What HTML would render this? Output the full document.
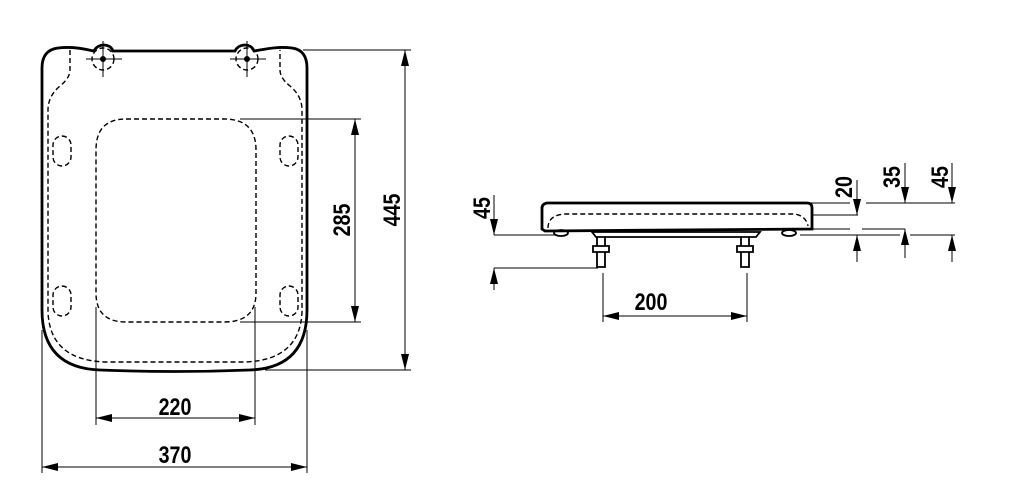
<!DOCTYPE html>
<html><head><meta charset="utf-8"><style>
html,body{margin:0;padding:0;background:#fff;}
svg{display:block;}
text{font-family:"Liberation Sans",sans-serif;font-weight:bold;font-size:24px;fill:#000;}
</style></head><body>
<svg width="1011" height="490" viewBox="0 0 1011 490" xmlns="http://www.w3.org/2000/svg">
<defs>
<marker id="a" viewBox="0 0 16 8" refX="16" refY="4" markerWidth="16" markerHeight="8" markerUnits="userSpaceOnUse" orient="auto-start-reverse"><path d="M0,0 L16,4 L0,8 z" fill="#000"/></marker>
</defs>
<g fill="none" stroke="#000">
<path d="M58,48 C75,46 88,50 94,51 C98,43 110,43 113,51 L235,51 C239,43 251,43 254,51 C262,50 275,46 292,48 Q307,50 307,68 L307,310 Q307,368 250,370 Q175,373 100,370 Q42,368 42,310 L42,68 Q42,50 58,48 z" stroke-width="2.8"/>
<g stroke-width="1.4" stroke-dasharray="5,3">
<path d="M70,50 L70,70 Q70,78 60,86 Q48,96 48,110 L48,312 Q50,360 105,362 L245,362 Q300,360 302,312 L302,110 Q302,96 290,86 Q280,78 280,70 L280,50"/>
<path d="M126,119 L224,119 Q256,119 256,150 L256,293 Q256,322 224,322 L126,322 Q96,322 96,293 L96,150 Q96,119 126,119 z"/>
<rect x="53" y="136" width="18" height="30" rx="9"/>
<rect x="53" y="286" width="18" height="30" rx="9"/>
<rect x="280" y="136" width="18" height="30" rx="9"/>
<rect x="280" y="286" width="18" height="30" rx="9"/>
<circle cx="103" cy="59" r="11"/>
<circle cx="247" cy="59" r="11"/>
</g>
<circle cx="103" cy="59" r="2.5" fill="#000"/>
<circle cx="247" cy="59" r="2.5" fill="#000"/>
<g stroke-width="1">
<line x1="86" y1="59" x2="122" y2="59"/><line x1="103" y1="41" x2="103" y2="77"/>
<line x1="230" y1="59" x2="266" y2="59"/><line x1="247" y1="41" x2="247" y2="77"/>
</g>
<g stroke-width="1">
<line x1="303" y1="50" x2="411" y2="50"/>
<line x1="265" y1="370" x2="411" y2="370"/>
<line x1="405" y1="50" x2="405" y2="370" marker-start="url(#a)" marker-end="url(#a)"/>
<line x1="240" y1="119" x2="361" y2="119"/>
<line x1="240" y1="322" x2="361" y2="322"/>
<line x1="355" y1="119" x2="355" y2="322" marker-start="url(#a)" marker-end="url(#a)"/>
<line x1="96" y1="307" x2="96" y2="425"/>
<line x1="255" y1="307" x2="255" y2="425"/>
<line x1="96" y1="418" x2="255" y2="418" marker-start="url(#a)" marker-end="url(#a)"/>
<line x1="42" y1="330" x2="42" y2="473"/>
<line x1="307" y1="330" x2="307" y2="473"/>
<line x1="42" y1="467" x2="307" y2="467" marker-start="url(#a)" marker-end="url(#a)"/>
</g>
<path d="M547,203 L807,203 Q812,203 812,208 L812,229 L545,231 L542,229 L542,208 Q542,204 547,203 z" stroke-width="2.8"/>
<path d="M548,228 Q548,215 565,214 L795,214 Q806,216 808,226" stroke-width="1.4" stroke-dasharray="5,3"/>
<path d="M592,232 L760,232 L756,237 L596,237 z" stroke-width="1.8"/>
<ellipse cx="561" cy="233" rx="7" ry="3" stroke-width="1.8"/>
<ellipse cx="789" cy="233" rx="7" ry="3" stroke-width="1.8"/>
<g stroke-width="1.8">
<path d="M597,237 L597,246 M605,237 L605,246 M593,246 L609,246 L609,252 L593,252 z M597,252 L597,267 L605,267 L605,252"/>
<path d="M741,237 L741,246 M749,237 L749,246 M737,246 L753,246 L753,252 L737,252 z M741,252 L741,267 L749,267 L749,252"/>
</g>
<g stroke-width="1">
<line x1="494" y1="235" x2="555" y2="235"/>
<line x1="494" y1="268" x2="598" y2="268"/>
<line x1="494" y1="195" x2="494" y2="235" marker-end="url(#a)"/>
<line x1="494" y1="290" x2="494" y2="268" marker-end="url(#a)"/>
<line x1="603" y1="273" x2="603" y2="322"/>
<line x1="747" y1="273" x2="747" y2="322"/>
<line x1="603" y1="316" x2="747" y2="316" marker-start="url(#a)" marker-end="url(#a)"/>
<line x1="810" y1="203" x2="850" y2="203"/>
<line x1="866" y1="203" x2="955" y2="203"/>
<line x1="812" y1="215" x2="858" y2="215"/>
<line x1="800" y1="229" x2="850" y2="229"/>
<line x1="862" y1="229" x2="905" y2="229"/>
<line x1="800" y1="235" x2="900" y2="235"/>
<line x1="910" y1="235" x2="955" y2="235"/>
<line x1="857" y1="180" x2="857" y2="215" marker-end="url(#a)"/>
<line x1="857" y1="262" x2="857" y2="235" marker-end="url(#a)"/>
<line x1="905" y1="163" x2="905" y2="203" marker-end="url(#a)"/>
<line x1="905" y1="258" x2="905" y2="229" marker-end="url(#a)"/>
<line x1="952" y1="163" x2="952" y2="203" marker-end="url(#a)"/>
<line x1="952" y1="262" x2="952" y2="235" marker-end="url(#a)"/>
</g>
</g>
<text transform="translate(175,415) scale(0.82,1)" text-anchor="middle">220</text>
<text transform="translate(175,463) scale(0.82,1)" text-anchor="middle">370</text>
<text transform="translate(651,310) scale(0.82,1)" text-anchor="middle">200</text>
<text transform="translate(350,220) rotate(-90) scale(0.82,1)" text-anchor="middle">285</text>
<text transform="translate(400,210) rotate(-90) scale(0.82,1)" text-anchor="middle">445</text>
<text transform="translate(490,208) rotate(-90) scale(0.82,1)" text-anchor="middle">45</text>
<text transform="translate(852,187) rotate(-90) scale(0.82,1)" text-anchor="middle">20</text>
<text transform="translate(900,177) rotate(-90) scale(0.82,1)" text-anchor="middle">35</text>
<text transform="translate(948,177) rotate(-90) scale(0.82,1)" text-anchor="middle">45</text>
</svg>
</body></html>
